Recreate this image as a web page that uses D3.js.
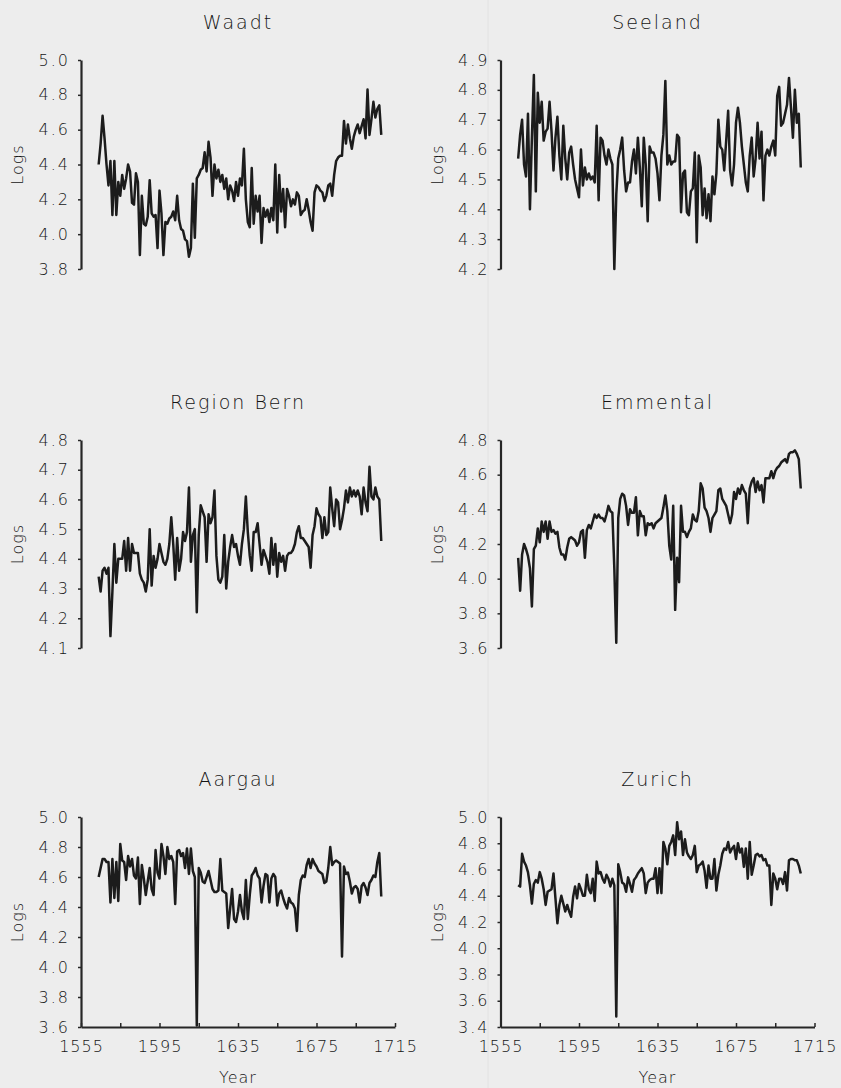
<!DOCTYPE html>
<html>
<head>
<meta charset="utf-8">
<script src="https://cdn.jsdelivr.net/npm/d3@7"></script>
<style>
  body { margin: 0; background: #ededed; }
  svg { display: block; }
  text { font-family: "DejaVu Sans", sans-serif; fill: #151515; font-weight: 200; }
</style>
</head>
<body>
<div id="chart"></div>
<script>
// yearly log values, 1564 .. 1708
var firstYear = 1564;

var waadt = [
  4.40, 4.52, 4.68, 4.55, 4.40, 4.28,
  4.42, 4.11, 4.42, 4.11, 4.30, 4.22, 4.34, 4.26, 4.32, 4.40,
  4.36, 4.18, 4.17, 4.35, 4.30, 3.88, 4.22, 4.06, 4.05, 4.10,
  4.31, 4.12, 4.10, 4.11, 3.92, 4.25, 4.12, 3.88, 4.07, 4.06,
  4.09, 4.10, 4.13, 4.08, 4.22, 4.08, 4.03, 4.02, 3.97, 3.96,
  3.87, 3.92, 4.29, 3.98, 4.32, 4.34, 4.37, 4.38, 4.47, 4.36,
  4.53, 4.44, 4.22, 4.40, 4.32, 4.37, 4.30, 4.34, 4.26, 4.32,
  4.20, 4.28, 4.25, 4.19, 4.30, 4.22, 4.32, 4.28, 4.49, 4.20,
  4.07, 4.04, 4.38, 4.06, 4.22, 4.13, 4.22, 3.95, 4.15, 4.10,
  4.14, 4.07, 4.15, 4.08, 4.40, 4.01, 4.34, 4.13, 4.26, 4.04,
  4.26, 4.22, 4.16, 4.20, 4.17, 4.24, 4.22, 4.11, 4.13, 4.14,
  4.20, 4.14, 4.07, 4.02, 4.24, 4.28, 4.27, 4.25, 4.24, 4.19,
  4.22, 4.28, 4.29, 4.22, 4.34, 4.42, 4.44, 4.45, 4.45, 4.65,
  4.52, 4.63, 4.55, 4.49, 4.56, 4.60, 4.63, 4.58, 4.62, 4.66,
  4.55, 4.83, 4.57, 4.66, 4.76, 4.67, 4.72, 4.74, 4.57
];

var seeland = [
  4.57, 4.65, 4.70, 4.55, 4.51, 4.72,
  4.40, 4.64, 4.85, 4.46, 4.79, 4.69, 4.76, 4.63, 4.66, 4.67,
  4.76, 4.66, 4.53, 4.64, 4.71, 4.58, 4.50, 4.68, 4.57, 4.50,
  4.59, 4.61, 4.55, 4.50, 4.47, 4.44, 4.60, 4.48, 4.54, 4.50,
  4.52, 4.50, 4.51, 4.49, 4.68, 4.43, 4.64, 4.63, 4.58, 4.55,
  4.60, 4.57, 4.55, 4.20, 4.45, 4.57, 4.60, 4.64, 4.53, 4.46,
  4.49, 4.49, 4.56, 4.60, 4.52, 4.64, 4.54, 4.41, 4.64, 4.55,
  4.36, 4.61, 4.59, 4.59, 4.57, 4.52, 4.43, 4.58, 4.65, 4.83,
  4.55, 4.58, 4.55, 4.56, 4.56, 4.65, 4.64, 4.39, 4.52, 4.53,
  4.39, 4.38, 4.46, 4.47, 4.59, 4.29, 4.58, 4.54, 4.38, 4.47,
  4.37, 4.45, 4.36, 4.51, 4.45, 4.52, 4.70, 4.61, 4.60, 4.53,
  4.63, 4.73, 4.53, 4.48, 4.55, 4.69, 4.74, 4.69, 4.61, 4.55,
  4.49, 4.46, 4.58, 4.64, 4.51, 4.57, 4.69, 4.57, 4.66, 4.43,
  4.58, 4.60, 4.58, 4.61, 4.63, 4.58, 4.78, 4.81, 4.68, 4.69,
  4.72, 4.75, 4.84, 4.74, 4.64, 4.80, 4.69, 4.72, 4.54
];

var regionBern = [
  4.34, 4.29, 4.36, 4.37, 4.35, 4.37,
  4.14, 4.29, 4.45, 4.32, 4.40, 4.40, 4.40, 4.46, 4.36, 4.47,
  4.36, 4.45, 4.42, 4.42, 4.42, 4.35, 4.33, 4.32, 4.29, 4.33,
  4.50, 4.31, 4.41, 4.37, 4.40, 4.45, 4.42, 4.39, 4.38, 4.40,
  4.45, 4.54, 4.45, 4.33, 4.47, 4.36, 4.40, 4.49, 4.46, 4.49,
  4.64, 4.39, 4.48, 4.50, 4.22, 4.48, 4.58, 4.56, 4.54, 4.39,
  4.55, 4.52, 4.54, 4.63, 4.41, 4.33, 4.32, 4.34, 4.48, 4.30,
  4.39, 4.44, 4.48, 4.44, 4.45, 4.41, 4.38, 4.45, 4.50, 4.61,
  4.49, 4.41, 4.36, 4.49, 4.49, 4.52, 4.45, 4.38, 4.43, 4.41,
  4.39, 4.35, 4.47, 4.38, 4.45, 4.34, 4.42, 4.39, 4.41, 4.36,
  4.41, 4.42, 4.42, 4.43, 4.45, 4.49, 4.51, 4.47, 4.47, 4.46,
  4.45, 4.44, 4.37, 4.48, 4.51, 4.57, 4.55, 4.54, 4.47, 4.54,
  4.48, 4.49, 4.64, 4.57, 4.51, 4.60, 4.59, 4.50, 4.53, 4.57,
  4.63, 4.59, 4.64, 4.61, 4.63, 4.61, 4.63, 4.61, 4.55, 4.64,
  4.59, 4.56, 4.71, 4.61, 4.60, 4.64, 4.61, 4.60, 4.46
];

var emmental = [
  4.12, 3.93, 4.14, 4.20, 4.17, 4.13,
  4.06, 3.84, 4.17, 4.19, 4.29, 4.21, 4.33, 4.27, 4.33, 4.23,
  4.33, 4.27, 4.28, 4.26, 4.27, 4.18, 4.14, 4.14, 4.11, 4.18,
  4.23, 4.24, 4.23, 4.22, 4.19, 4.21, 4.27, 4.28, 4.12, 4.28,
  4.31, 4.29, 4.33, 4.37, 4.35, 4.37, 4.35, 4.35, 4.33, 4.37,
  4.42, 4.39, 4.38, 4.06, 3.63, 4.35, 4.46, 4.49, 4.48, 4.42,
  4.31, 4.40, 4.38, 4.38, 4.47, 4.25, 4.39, 4.36, 4.36, 4.25,
  4.32, 4.31, 4.32, 4.29, 4.32, 4.33, 4.34, 4.35, 4.41, 4.48,
  4.39, 4.19, 4.11, 4.42, 3.82, 4.12, 3.98, 4.42, 4.27, 4.27,
  4.24, 4.27, 4.29, 4.37, 4.34, 4.33, 4.39, 4.55, 4.52, 4.41,
  4.39, 4.35, 4.27, 4.35, 4.37, 4.39, 4.51, 4.52, 4.46, 4.44,
  4.42, 4.37, 4.32, 4.37, 4.50, 4.46, 4.52, 4.49, 4.54, 4.51,
  4.49, 4.32, 4.52, 4.56, 4.58, 4.50, 4.56, 4.51, 4.54, 4.44,
  4.58, 4.58, 4.58, 4.62, 4.58, 4.62, 4.64, 4.65, 4.67, 4.68,
  4.69, 4.67, 4.72, 4.73, 4.73, 4.74, 4.72, 4.69, 4.52
];

var aargau = [
  4.60, 4.66, 4.72, 4.72, 4.70, 4.70,
  4.43, 4.72, 4.46, 4.70, 4.44, 4.82, 4.71, 4.70, 4.58, 4.74,
  4.67, 4.72, 4.61, 4.59, 4.73, 4.42, 4.68, 4.59, 4.48, 4.57,
  4.66, 4.52, 4.48, 4.78, 4.63, 4.59, 4.82, 4.74, 4.62, 4.80,
  4.72, 4.74, 4.70, 4.42, 4.77, 4.78, 4.74, 4.76, 4.66, 4.79,
  4.62, 4.79, 4.64, 4.60, 3.61, 4.66, 4.63, 4.57, 4.56, 4.60,
  4.64, 4.58, 4.52, 4.50, 4.50, 4.51, 4.72, 4.51, 4.50, 4.49,
  4.26, 4.39, 4.52, 4.32, 4.30, 4.37, 4.48, 4.37, 4.32, 4.58,
  4.32, 4.48, 4.61, 4.63, 4.66, 4.61, 4.59, 4.43, 4.54, 4.62,
  4.61, 4.43, 4.59, 4.62, 4.60, 4.41, 4.49, 4.51, 4.46, 4.42,
  4.39, 4.46, 4.43, 4.42, 4.39, 4.24, 4.48, 4.58, 4.61, 4.60,
  4.68, 4.72, 4.66, 4.72, 4.69, 4.67, 4.64, 4.63, 4.62, 4.56,
  4.57, 4.66, 4.80, 4.68, 4.70, 4.71, 4.70, 4.69, 4.07, 4.67,
  4.62, 4.63, 4.57, 4.49, 4.53, 4.54, 4.52, 4.43, 4.54, 4.56,
  4.53, 4.48, 4.56, 4.58, 4.61, 4.60, 4.70, 4.76, 4.47
];

var zurich = [
  4.48, 4.47, 4.72, 4.66, 4.63, 4.58,
  4.48, 4.34, 4.49, 4.52, 4.50, 4.58, 4.53, 4.45, 4.33, 4.43,
  4.44, 4.45, 4.57, 4.38, 4.19, 4.33, 4.40, 4.34, 4.28, 4.33,
  4.28, 4.24, 4.39, 4.47, 4.38, 4.49, 4.45, 4.40, 4.40, 4.56,
  4.45, 4.42, 4.53, 4.36, 4.66, 4.57, 4.58, 4.53, 4.50, 4.56,
  4.53, 4.47, 4.53, 4.48, 3.48, 4.64, 4.58, 4.50, 4.49, 4.43,
  4.54, 4.49, 4.43, 4.52, 4.54, 4.57, 4.59, 4.61, 4.57, 4.42,
  4.50, 4.52, 4.53, 4.53, 4.61, 4.42, 4.61, 4.42, 4.81, 4.76,
  4.64, 4.78, 4.81, 4.86, 4.71, 4.96, 4.83, 4.89, 4.71, 4.83,
  4.73, 4.70, 4.68, 4.71, 4.78, 4.58, 4.63, 4.64, 4.66, 4.59,
  4.46, 4.63, 4.53, 4.53, 4.68, 4.44, 4.56, 4.63, 4.72, 4.76,
  4.75, 4.81, 4.73, 4.76, 4.78, 4.68, 4.80, 4.73, 4.76, 4.62,
  4.76, 4.53, 4.81, 4.56, 4.63, 4.71, 4.72, 4.70, 4.71, 4.67,
  4.68, 4.63, 4.63, 4.33, 4.57, 4.53, 4.45, 4.53, 4.53, 4.49,
  4.58, 4.44, 4.67, 4.68, 4.68, 4.67, 4.67, 4.63, 4.57
];

var yearLabels = [1555, 1595, 1635, 1675, 1715];

//Width and height of the page
var w = 841;
var h = 1088;

var svg = d3.select("#chart")
    .append("svg")
    .attr("width", w)
    .attr("height", h);

svg.append("rect")
  .attr("width", w)
  .attr("height", h)
  .attr("fill", "#ededed");

//faint gutter of the scanned page
svg.append("line")
  .attr("x1", 488).attr("x2", 488)
  .attr("y1", 0).attr("y2", h)
  .attr("stroke", "#e2e2e2")
  .attr("stroke-width", 1);

//column x ranges and row y ranges
var cols = [[81, 395], [500.5, 814.5]];
var rows = [[60, 269], [440, 648], [817, 1027]];
var logsX = [17, 437];

var panels = [
  {name: "Waadt", values: waadt, lo: 3.8, hi: 5.0, step: 0.2, col: 0, row: 0},
  {name: "Seeland", values: seeland, lo: 4.2, hi: 4.9, step: 0.1, col: 1, row: 0},
  {name: "Region Bern", values: regionBern, lo: 4.1, hi: 4.8, step: 0.1, col: 0, row: 1},
  {name: "Emmental", values: emmental, lo: 3.6, hi: 4.8, step: 0.2, col: 1, row: 1},
  {name: "Aargau", values: aargau, lo: 3.6, hi: 5.0, step: 0.2, col: 0, row: 2},
  {name: "Zurich", values: zurich, lo: 3.4, hi: 5.0, step: 0.2, col: 1, row: 2}
];

panels.forEach(function(p) {
  var xr = cols[p.col];
  var yr = rows[p.row];

  var x = d3.scaleLinear().domain([1555, 1715]).range(xr);
  var y = d3.scaleLinear().domain([p.lo, p.hi]).range([yr[1], yr[0]]);

  var g = svg.append("g");

  //title
  g.append("text")
    .attr("x", (xr[0] + xr[1]) / 2)
    .attr("y", yr[0] - 31)
    .attr("text-anchor", "middle")
    .style("font-size", "19px")
    .style("letter-spacing", "2px")
    .text(p.name);

  //y axis
  var nTicks = Math.round((p.hi - p.lo) / p.step);
  var ticks = d3.range(nTicks + 1).map(function(i) { return p.lo + i * p.step; });
  var yAxis = d3.axisLeft(y)
    .tickValues(ticks)
    .tickFormat(d3.format(".1f"))
    .tickSizeInner(3)
    .tickSizeOuter(0)
    .tickPadding(8);

  var ya = g.append("g")
    .attr("transform", "translate(" + xr[0] + ",0)")
    .call(yAxis);
  ya.select(".domain").attr("stroke", "#262626").attr("stroke-width", 2.2);
  ya.selectAll(".tick line").attr("stroke", "#262626").attr("stroke-width", 1.5);
  ya.selectAll(".tick text")
    .attr("fill", "#151515")
    .style("font-family", "DejaVu Sans, sans-serif")
    .style("font-weight", "200")
    .style("font-size", "16px")
    .style("letter-spacing", "2px");

  g.append("text")
    .attr("transform", "translate(" + logsX[p.col] + "," + ((yr[0] + yr[1]) / 2) + ") rotate(-90)")
    .attr("text-anchor", "middle")
    .attr("dy", "0.35em")
    .style("font-size", "16px")
    .style("letter-spacing", "1px")
    .text("Logs");

  //x axis only on the bottom row
  if (p.row == 2) {
    var xAxis = d3.axisBottom(x)
      .tickValues(d3.range(1555, 1716, 20))
      .tickFormat(function(d) { return yearLabels.indexOf(d) >= 0 ? d : ""; })
      .tickSizeInner(-4)
      .tickSizeOuter(0)
      .tickPadding(14);
    var xa = g.append("g")
      .attr("transform", "translate(0," + yr[1] + ")")
      .call(xAxis);
    xa.select(".domain").attr("stroke", "#262626").attr("stroke-width", 2.2);
    xa.selectAll(".tick line").attr("stroke", "#262626").attr("stroke-width", 1.5);
    xa.selectAll(".tick text")
      .attr("fill", "#151515")
      .style("font-family", "DejaVu Sans, sans-serif")
      .style("font-weight", "200")
      .style("font-size", "16px")
      .style("letter-spacing", "1px");

    g.append("text")
      .attr("x", (xr[0] + xr[1]) / 2)
      .attr("y", yr[1] + 56)
      .attr("text-anchor", "middle")
      .style("font-size", "16px")
      .style("letter-spacing", "1px")
      .text("Year");
  }

  //the series
  var line = d3.line()
    .x(function(d, i) { return x(firstYear + i); })
    .y(function(d) { return y(d); });

  g.append("path")
    .datum(p.values)
    .attr("d", line)
    .attr("fill", "none")
    .attr("stroke", "#1c1c1c")
    .attr("stroke-width", 2.5)
    .attr("stroke-linejoin", "round");
});
</script>
</body>
</html>
